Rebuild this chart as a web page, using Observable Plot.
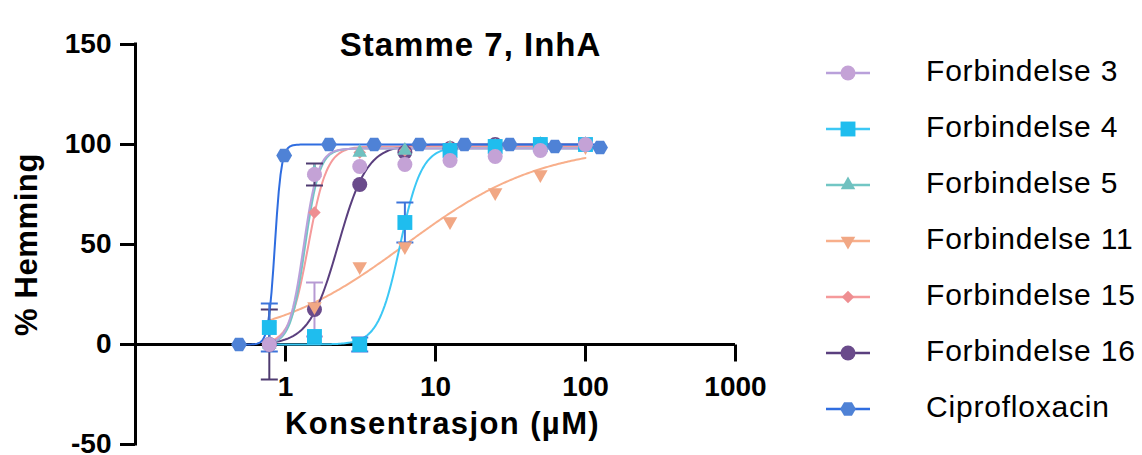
<!DOCTYPE html>
<html><head><meta charset="utf-8">
<script src="https://cdn.jsdelivr.net/npm/d3@7"></script>
<script src="https://cdn.jsdelivr.net/npm/@observablehq/plot@0.6"></script>
<style>
body{margin:0;background:#fff;font-family:"Liberation Sans",Arial,Helvetica,sans-serif;}
#wrap{position:relative;width:1142px;height:455px;overflow:hidden;background:#fff;}
#chart{position:absolute;left:0;top:0;}
.legsym{position:absolute;left:822px;}
.legtxt{position:absolute;left:926px;font-size:30px;line-height:34px;letter-spacing:0.8px;color:#000;white-space:nowrap;}
</style></head>
<body><div id="wrap"><div id="chart"></div><div id="legend"></div></div>
<script>
// ---------- data ----------
const seriesNames = ["Forbindelse 3","Forbindelse 4","Forbindelse 5","Forbindelse 11","Forbindelse 15","Forbindelse 16","Ciprofloxacin"];
const concCompounds = [0.78, 1.56, 3.125, 6.25, 12.5, 25, 50, 100];
const concCipro = [0.49, 0.98, 1.95, 3.9, 7.8, 15.6, 31.25, 62.5, 125];
const valuesF3  = [0, 85, 89, 90, 92, 94, 97, 100];
const valuesF4  = [8.5, 4, 0, 61, 97, 99, 100, 100];
const valuesF5  = [0, 86, 96, 97, 98, 99, 100, 100];
const valuesF11 = [9, 19, 39, 49, 61.5, 76, 85, 99];
const valuesF15 = [0, 66, 96, 97, 99, 100, 100, 100];
const valuesF16 = [0, 17.5, 80, 96, 98, 100, 100, 100];
const valuesCipro = [0, 94.5, 100, 100, 100, 100, 100, 99, 98.5];
const seriesValues = [valuesF3, valuesF4, valuesF5, valuesF11, valuesF15, valuesF16, valuesCipro];
// error bars (SD)
const errSeries = ["Forbindelse 3","Forbindelse 3","Forbindelse 4","Forbindelse 4","Forbindelse 4","Forbindelse 16"];
const errConc   = [0.78, 1.56, 0.78, 3.125, 6.25, 1.56];
const errSD     = [17.5, 5.5, 12, 3.5, 10, 13.5];
// fitted 4PL curve parameters (read from the drawn fits)
const fitBottom = [0, 0, 0, 0, 0, 0, 0];
const fitTop    = [98, 99, 98, 100, 99, 100, 100];
const fitEC50   = [1.32, 5.8, 1.35, 6.3, 1.42, 2.25, 0.85];
const fitHill   = [9, 6, 9, 0.95, 7, 4.5, 20];
// axes
const xTicks = [1, 10, 100, 1000];
const yTicks = [-50, 0, 50, 100, 150];
const xDomain = [0.1, 1000];
const yDomain = [-50, 150];
const titleText = "Stamme 7, InhA";
const xTitle = "Konsentrasjon (µM)";
const yTitle = "% Hemming";

// ---------- styles ----------
const markerColor = {"Forbindelse 3":"#C4A2D6","Forbindelse 4":"#1FBDEE","Forbindelse 5":"#6FC1C0","Forbindelse 11":"#F1A784","Forbindelse 15":"#EE8E91","Forbindelse 16":"#6A4B8B","Ciprofloxacin":"#4F82D6"};
const lineColor = {"Forbindelse 3":"#B9A0DA","Forbindelse 4":"#3CC8F5","Forbindelse 5":"#72C6C4","Forbindelse 11":"#F8AF8B","Forbindelse 15":"#F59A9B","Forbindelse 16":"#5A3F7E","Ciprofloxacin":"#2F6DE0"};
const errColor = {"Forbindelse 3":"#4E3B70","Forbindelse 4":"#3C74DA","Forbindelse 16":"#B79AD3"};
const triangleDown = {draw(ctx, size){ const y = -Math.sqrt(size/(3*Math.sqrt(3))); ctx.moveTo(0,-2*y); ctx.lineTo(-Math.sqrt(3)*y, y); ctx.lineTo(Math.sqrt(3)*y, y); ctx.closePath(); }};
const hexFlat = {draw(ctx, size){ const r = Math.sqrt(size/(1.5*Math.sqrt(3))); for(let k=0;k<6;k++){ const a = k*Math.PI/3; const px=r*Math.cos(a), py=r*Math.sin(a); k?ctx.lineTo(px,py):ctx.moveTo(px,py);} ctx.closePath(); }};
const symbolOf = {"Forbindelse 3":"circle","Forbindelse 4":"square","Forbindelse 5":"triangle","Forbindelse 11":triangleDown,"Forbindelse 15":"diamond2","Forbindelse 16":"circle","Ciprofloxacin":hexFlat};
const radiusOf = {"Forbindelse 3":7.5,"Forbindelse 4":8.4,"Forbindelse 5":5.4,"Forbindelse 11":5.4,"Forbindelse 15":5.6,"Forbindelse 16":7.5,"Ciprofloxacin":7.2};
const tickDown = {draw(ctx){ ctx.moveTo(0,0); ctx.lineTo(0,17); }};
const capSym = {draw(ctx){ ctx.moveTo(-8.5,0); ctx.lineTo(8.5,0); }};
const letterSpacing = {[titleText]: "1px", [xTitle]: "1.4px", [yTitle]: "0.6px"};

// ---------- build tables ----------
const points = seriesNames.flatMap((s,i) => {
  const conc = s === "Ciprofloxacin" ? concCipro : concCompounds;
  return seriesValues[i].map((v,j) => ({series:s, conc:conc[j], value:v}));
});
const errs = errSeries.map((s,k) => {
  const i = seriesNames.indexOf(s);
  const conc = s === "Ciprofloxacin" ? concCipro : concCompounds;
  const mean = seriesValues[i][conc.indexOf(errConc[k])];
  return {series:s, conc:errConc[k], lo:mean-errSD[k], hi:mean+errSD[k]};
});
function fitCurve(i){
  const conc = seriesNames[i] === "Ciprofloxacin" ? concCipro : concCompounds;
  const lo = d3.min(conc), hi = d3.max(conc), n = 200, out = [];
  for (let k=0;k<=n;k++){
    const c = lo*Math.pow(hi/lo, k/n);
    out.push({series:seriesNames[i], conc:c, value: fitBottom[i] + (fitTop[i]-fitBottom[i])/(1+Math.pow(fitEC50[i]/c, fitHill[i]))});
  }
  return out;
}

const lineOrder = ["Forbindelse 11","Forbindelse 4","Forbindelse 16","Forbindelse 15","Forbindelse 5","Forbindelse 3","Ciprofloxacin"];
const dotOrder = ["Forbindelse 16","Forbindelse 11","Forbindelse 15","Forbindelse 5","Forbindelse 4","Forbindelse 3","Ciprofloxacin"];

const marks = [];
// axis lines
marks.push(Plot.ruleY([0], {x1: xDomain[0], x2: xDomain[1], stroke:"#000", strokeWidth:3}));
marks.push(Plot.dot(xTicks, {x: d=>d, y: ()=>0, symbol: tickDown, r:4, fill:"none", stroke:"#000", strokeWidth:3}));
marks.push(Plot.text(xTicks, {x: d=>d, y: ()=>0, text: d=>String(d), dy:43, fontSize:28, fontWeight:"bold", fill:"#000"}));
marks.push(Plot.ruleX([xDomain[0]], {y1: yDomain[0], y2: yDomain[1], stroke:"#000", strokeWidth:3, strokeLinecap:"square"}));
marks.push(Plot.axisY(yTicks, {tickSize:15, tickPadding:9, fontSize:28, fontWeight:"bold", strokeWidth:3, tickFormat: d=>String(d), label:null, fill:"#000"}));
// curves
for (const s of lineOrder){
  marks.push(Plot.line(fitCurve(seriesNames.indexOf(s)), {x:"conc", y:"value", stroke: lineColor[s], strokeWidth:2}));
}
// error bars
for (const s of Object.keys(errColor)){
  const e = errs.filter(d=>d.series===s);
  marks.push(Plot.ruleX(e, {x:"conc", y1:"lo", y2:"hi", stroke: errColor[s], strokeWidth:2}));
  marks.push(Plot.dot(e, {x:"conc", y:"lo", symbol: capSym, r:4, fill:"none", stroke: errColor[s], strokeWidth:2}));
  marks.push(Plot.dot(e, {x:"conc", y:"hi", symbol: capSym, r:4, fill:"none", stroke: errColor[s], strokeWidth:2}));
}
// markers
for (const s of dotOrder){
  marks.push(Plot.dot(points.filter(d=>d.series===s), {x:"conc", y:"value", symbol: symbolOf[s], r: radiusOf[s], fill: markerColor[s], stroke:"none"}));
}
// titles
marks.push(Plot.text([titleText], {frameAnchor:"top", textAnchor:"middle", dx:35, dy:-12, fontSize:33, fontWeight:"bold", fill:"#000"}));
marks.push(Plot.text([xTitle], {frameAnchor:"bottom", textAnchor:"middle", dx:7, dy:-11, fontSize:31, fontWeight:"bold", fill:"#000"}));
marks.push(Plot.text([yTitle], {frameAnchor:"left", textAnchor:"middle", dx:-108, rotate:-90, fontSize:31, fontWeight:"bold", fill:"#000"}));

const chart = Plot.plot({
  width: 800, height: 455,
  marginLeft: 135, marginRight: 65, marginTop: 44, marginBottom: 11,
  x: {type:"log", domain: xDomain, axis: null},
  y: {domain: yDomain},
  style: {fontFamily:'"Liberation Sans", Arial, Helvetica, sans-serif', color:"#000", background:"#fff", overflow:"visible"},
  marks
});
d3.select(chart).selectAll("text").each(function(){
  const ls = letterSpacing[this.textContent];
  if (ls) this.style.letterSpacing = ls;
});
document.getElementById("chart").appendChild(chart);

// ---------- legend ----------
const legend = document.getElementById("legend");
seriesNames.forEach((s,i) => {
  const cy = 73 + 56*i;
  const svg = d3.create("svg").attr("class","legsym").attr("width",56).attr("height",30)
    .style("top", (cy-15)+"px");
  svg.append("line").attr("x1",4).attr("x2",48).attr("y1",15).attr("y2",15).attr("stroke",lineColor[s]).attr("stroke-width",2.5);
  const sym = symbolOf[s];
  const symType = typeof sym === "string" ? {circle:d3.symbolCircle, square:d3.symbolSquare, triangle:d3.symbolTriangle, diamond2:d3.symbolDiamond2}[sym] : sym;
  const r = radiusOf[s];
  svg.append("path").attr("d", d3.symbol(symType, Math.PI*r*r)()).attr("transform","translate(26,15)").attr("fill",markerColor[s]);
  legend.appendChild(svg.node());
  const t = document.createElement("div");
  t.className = "legtxt";
  t.style.top = (cy - 19) + "px";
  t.textContent = s;
  legend.appendChild(t);
});
</script></body></html>
